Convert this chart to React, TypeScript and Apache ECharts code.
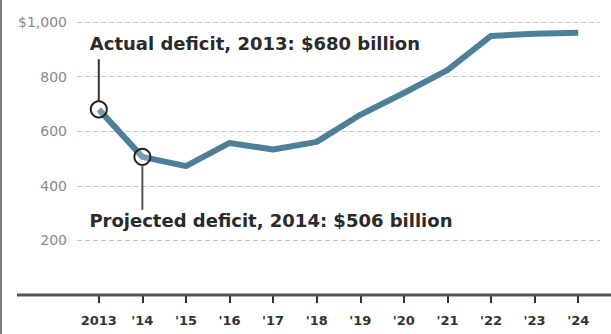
import React, { useEffect, useRef } from "react";
import * as echarts from "echarts";

const years = ["2013", "2014", "2015", "2016", "2017", "2018", "2019", "2020", "2021", "2022", "2023", "2024"];
const yearLabels = ["2013", "'14", "'15", "'16", "'17", "'18", "'19", "'20", "'21", "'22", "'23", "'24"];
const deficits = [680, 506, 472, 557, 533, 561, 660, 740, 824, 949, 957, 961];
const yTicks = [0, 200, 400, 600, 800, 1000];
const highlighted = ["2013", "2014"];

export default function App() {
  const ref = useRef<HTMLDivElement>(null);
  useEffect(() => {
    if (!ref.current) return;
    const chart = echarts.init(ref.current, null, { renderer: "svg" });
    const data = deficits.map((v, i) =>
      highlighted.includes(years[i])
        ? {
            value: v,
            symbol: "circle",
            symbolSize: 16,
            itemStyle: { color: "rgba(255,255,255,0.25)", borderColor: "#222", borderWidth: 2 },
          }
        : { value: v, symbol: "none" }
    );
    chart.setOption({
      animation: false,
      backgroundColor: "#fff",
      grid: { left: 77, right: 11, top: 22, bottom: 39 },
      xAxis: {
        type: "category",
        data: years,
        boundaryGap: true,
        axisLine: { show: false },
        axisTick: { show: true, alignWithLabel: true, interval: 0, length: 8, lineStyle: { color: "#333", width: 2 } },
        axisLabel: {
          interval: 0,
          margin: 19,
          color: "#333",
          fontFamily: "DejaVu Sans",
          fontWeight: "bold",
          fontSize: 13,
          formatter: (_v: string, i: number) => yearLabels[i],
        },
        splitLine: { show: false },
      },
      yAxis: {
        type: "value",
        min: yTicks[0],
        max: yTicks[yTicks.length - 1],
        interval: 200,
        axisLine: { show: false },
        axisTick: { show: false },
        axisLabel: {
          margin: 10,
          color: "#8a8a8a",
          fontFamily: "DejaVu Sans",
          fontSize: 14,
          formatter: (v: number) => (v === 0 ? "" : v === 1000 ? "$1,000" : String(v)),
        },
        splitLine: { show: true, lineStyle: { color: "#c8c8c8", type: [5, 3], width: 1 } },
      },
      series: [
        {
          type: "line",
          data,
          lineStyle: { color: "#4e7f98", width: 6, join: "round" },
          itemStyle: { color: "#4e7f98" },
          showSymbol: true,
          z: 3,
        },
      ],
    });

    const p13 = chart.convertToPixel({ gridIndex: 0 }, [0, deficits[0]]) as number[];
    const p14 = chart.convertToPixel({ gridIndex: 0 }, [1, deficits[1]]) as number[];
    const base = chart.convertToPixel({ gridIndex: 0 }, [0, 0]) as number[];
    const textStyleRich = {
      a: { fontFamily: "DejaVu Sans", fontWeight: "bold", fontSize: 18, fill: "#2a2a2a" },
      b: { fontFamily: "DejaVu Sans", fontWeight: "bold", fontSize: 18, fill: "#2a2a2a" },
    };
    chart.setOption({
      graphic: [
        { type: "rect", shape: { x: 0, y: 0, width: 2, height: 334 }, style: { fill: "#7a7a7a" }, z: 10 },
        {
          type: "line",
          shape: { x1: 17, y1: base[1], x2: 611, y2: base[1] },
          style: { stroke: "#555", lineWidth: 3 },
          z: 5,
        },
        {
          type: "line",
          shape: { x1: p13[0], y1: p13[1] - 50, x2: p13[0], y2: p13[1] - 8 },
          style: { stroke: "#333", lineWidth: 2 },
          z: 5,
        },
        {
          type: "line",
          shape: { x1: p14[0], y1: p14[1] + 8, x2: p14[0], y2: p14[1] + 53 },
          style: { stroke: "#555", lineWidth: 2 },
          z: 5,
        },
        {
          type: "text",
          x: p13[0] - 9,
          y: p13[1] - 66,
          style: {
            text: "{a|Actual deficit, 2013: }{b|$680 billion}",
            rich: textStyleRich,
            verticalAlign: "middle",
            align: "left",
          },
          z: 6,
        },
        {
          type: "text",
          x: p14[0] - 53,
          y: p14[1] + 64,
          style: {
            text: "{a|Projected deficit, 2014: }{b|$506 billion}",
            rich: textStyleRich,
            verticalAlign: "middle",
            align: "left",
          },
          z: 6,
        },
      ],
    });
    return () => chart.dispose();
  }, []);
  return <div ref={ref} style={{ position: "fixed", left: 0, top: 0, width: 611, height: 334 }} />;
}
